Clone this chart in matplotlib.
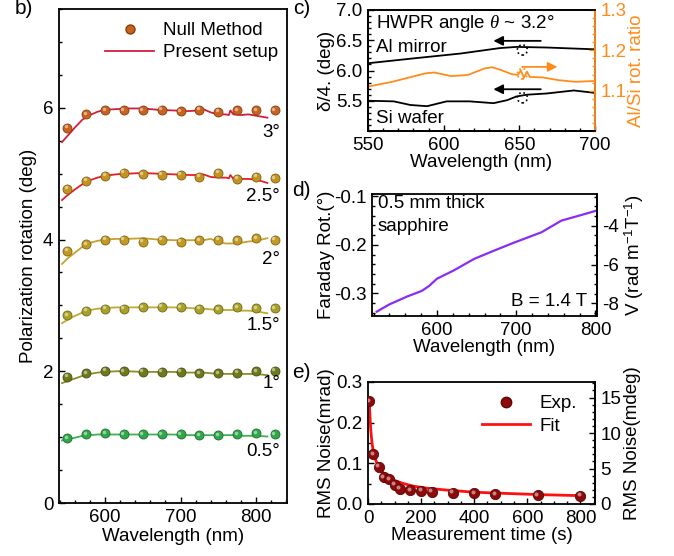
import numpy as np
import matplotlib.pyplot as plt
from matplotlib.ticker import MultipleLocator, FixedLocator
from matplotlib.transforms import offset_copy
from matplotlib.patches import Ellipse
from matplotlib.lines import Line2D
from matplotlib.colors import to_rgb

plt.rcParams['font.family'] = ['Liberation Sans', 'DejaVu Sans']
plt.rcParams['font.size'] = 13.5
plt.rcParams['mathtext.fontset'] = 'custom'
plt.rcParams['mathtext.rm'] = 'Liberation Sans'
plt.rcParams['mathtext.it'] = 'Liberation Serif:italic'
plt.rcParams['axes.unicode_minus'] = False
plt.rcParams['axes.linewidth'] = 1.3

# ---------------- panel b: polarization rotation vs wavelength ----------------
wl_pts = [550, 575, 600, 625, 650, 675, 700, 725, 750, 775, 800, 825]
null_3 = [5.70, 5.90, 5.96, 5.96, 5.96, 5.97, 5.95, 5.97, 5.94, 5.96, 5.96, 5.96]
null_25 = [4.77, 4.89, 4.97, 5.01, 4.99, 4.98, 4.98, 4.95, 5.01, 4.92, 4.95, 4.93]
null_2 = [3.83, 3.93, 4.00, 4.00, 3.97, 4.00, 3.97, 3.99, 4.00, 3.99, 4.02, 4.00]
null_15 = [2.85, 2.92, 2.95, 2.95, 2.97, 2.98, 2.97, 2.95, 2.94, 2.97, 2.96, 2.96]
null_1 = [1.92, 1.97, 2.01, 2.00, 1.99, 1.99, 1.99, 1.97, 1.97, 1.98, 2.00, 2.01]
null_05 = [0.98, 1.04, 1.06, 1.04, 1.04, 1.04, 1.04, 1.03, 1.03, 1.04, 1.06, 1.04]

wl_line = [543, 550, 560, 570, 580, 590, 600, 615, 630, 650, 670, 690, 710, 725,
           730, 740, 750, 760, 764, 766, 770, 780, 790, 800, 815]
setup_3 = [5.48, 5.57, 5.70, 5.82, 5.89, 5.94, 5.97, 5.98, 5.99, 5.99, 5.97, 5.96, 5.95, 5.96,
           5.98, 5.93, 5.90, 5.90, 5.89, 5.96, 5.90, 5.89, 5.90, 5.88, 5.85]
setup_25 = [4.60, 4.67, 4.76, 4.84, 4.90, 4.94, 4.97, 4.99, 5.00, 5.01, 5.00, 4.99, 4.98, 4.98,
            4.99, 4.95, 4.94, 4.94, 4.93, 4.98, 4.92, 4.92, 4.92, 4.91, 4.86]
setup_2 = [3.63, 3.71, 3.80, 3.89, 3.95, 3.98, 4.00, 4.01, 4.01, 4.02, 4.00, 3.99, 3.99, 3.99,
           3.99, 4.01, 3.96, 3.94, 3.94, 3.94, 3.94, 3.95, 3.97, 3.98, 4.02]
setup_15 = [2.73, 2.78, 2.84, 2.89, 2.93, 2.95, 2.96, 2.97, 2.97, 2.97, 2.97, 2.97, 2.96, 2.95,
            2.95, 2.94, 2.93, 2.93, 2.93, 2.93, 2.93, 2.92, 2.92, 2.91, 2.88]
setup_1 = [1.82, 1.85, 1.89, 1.93, 1.96, 1.98, 1.99, 2.00, 2.00, 1.99, 1.99, 1.99, 1.98, 1.98,
           1.98, 1.97, 1.96, 1.96, 1.96, 1.96, 1.96, 1.96, 1.96, 1.96, 1.94]
setup_05 = [0.95, 0.97, 0.99, 1.02, 1.03, 1.04, 1.04, 1.04, 1.04, 1.04, 1.04, 1.04, 1.03, 1.03,
            1.03, 1.03, 1.03, 1.03, 1.03, 1.03, 1.03, 1.02, 1.02, 1.02, 1.01]

angle_labels = ['3°', '2.5°', '2°', '1.5°', '1°', '0.5°']
angle_label_y = [5.62, 4.65, 3.69, 2.70, 1.82, 0.78]

# ---------------- panel c: Al mirror / Si wafer ----------------
wl_al = [550, 580, 611, 637, 648, 668, 700]
rot_al = [6.12, 6.20, 6.28, 6.37, 6.39, 6.38, 6.35]
wl_si = [550, 567, 578, 589, 602, 617, 633, 642, 648, 655, 668, 686, 700]
rot_si = [5.50, 5.49, 5.43, 5.41, 5.49, 5.49, 5.46, 5.51, 5.57, 5.60, 5.62, 5.67, 5.63]
wl_ratio = [550, 566, 588, 594, 605, 616, 627, 632, 638, 645, 649, 651, 653, 655, 657,
            665, 676, 687, 700]
ratio = [1.110, 1.122, 1.143, 1.145, 1.136, 1.139, 1.155, 1.158, 1.151, 1.141, 1.139,
         1.150, 1.132, 1.147, 1.134, 1.133, 1.126, 1.122, 1.124]

# ---------------- panel d: Faraday rotation of sapphire ----------------
wl_far = [524, 540, 562, 581, 590, 600, 621, 647, 672, 698, 732, 757, 783, 800]
far_rot = [-0.338, -0.323, -0.307, -0.295, -0.285, -0.270, -0.253, -0.229, -0.212,
           -0.195, -0.174, -0.150, -0.138, -0.130]

# ---------------- panel e: RMS noise vs time ----------------
t_exp = [5, 20, 40, 60, 80, 100, 120, 160, 200, 240, 320, 400, 480, 640, 800]
noise_exp = [0.253, 0.122, 0.092, 0.066, 0.061, 0.047, 0.037, 0.034, 0.032, 0.030,
             0.028, 0.026, 0.024, 0.022, 0.020]
t_fit = [4, 6, 10, 15, 20, 30, 45, 60, 80, 100, 130, 170, 220, 300, 400, 520, 650, 800]
noise_fit = [0.26, 0.235, 0.185, 0.15, 0.13, 0.106, 0.086, 0.075, 0.065, 0.058, 0.051,
             0.044, 0.039, 0.034, 0.029, 0.026, 0.023, 0.0205]

W, H = 674, 556
fig = plt.figure(figsize=(W / 100, H / 100), dpi=100)


def ax_rect(left, top, right, bottom):
    return [left / W, 1 - bottom / H, (right - left) / W, (bottom - top) / H]


def shade(c, f=0.65):
    r, g, b = to_rgb(c)
    return (r * f, g * f, b * f)


def balls(ax, x, y, color, s=42):
    ax.scatter(x, y, s=s, color=color, edgecolors=shade(color), linewidths=0.6, zorder=3)
    hl = offset_copy(ax.transData, fig=fig, x=-1.1, y=1.1, units='points')
    ax.scatter(x, y, s=s * 0.15, color='white', alpha=0.5, linewidths=0,
               transform=hl, zorder=4)


def ticks_in(ax, **kw):
    ax.tick_params(which='both', direction='in', width=1.0, pad=4, **kw)
    ax.tick_params(which='major', length=4.5)
    ax.tick_params(which='minor', length=2.5)


# ---- b
ax_b = fig.add_axes(ax_rect(59, 9, 287, 503))
line_cols = ['#d21f3c', '#e61e28', '#c9a030', '#c2a834', '#8f8d26', '#3fb14f']
pt_cols = ['#c8621c', '#c4921e', '#c29a22', '#a9a126', '#6d7a1c', '#2fa849']
nulls = [null_3, null_25, null_2, null_15, null_1, null_05]
setups = [setup_3, setup_25, setup_2, setup_15, setup_1, setup_05]
for nv, sv, lc, pc, lab, ly in zip(nulls, setups, line_cols, pt_cols, angle_labels, angle_label_y):
    ax_b.plot(wl_line, sv, color=lc, lw=1.3, zorder=2)
    balls(ax_b, wl_pts, nv, pc)
    ax_b.text(832, ly, lab, ha='right', va='center')
ax_b.set_xlim(539, 841)
ax_b.set_ylim(0, 7.5)
ax_b.xaxis.set_major_locator(MultipleLocator(100))
ax_b.xaxis.set_minor_locator(MultipleLocator(20))
ax_b.yaxis.set_major_locator(MultipleLocator(2))
ax_b.yaxis.set_minor_locator(MultipleLocator(0.5))
ticks_in(ax_b)
ax_b.set_xlabel('Wavelength (nm)', labelpad=2)
ax_b.set_ylabel('Polarization rotation (deg)')
ax_b.yaxis.set_label_coords(-0.096, 0.5)
leg_h = [Line2D([], [], ls='none', marker='o', ms=6.5, color='#c8621c',
                markeredgecolor=shade('#c8621c')),
         Line2D([], [], color='#d21f3c', lw=1.3)]
ax_b.legend(leg_h, ['Null Method', 'Present setup'], loc='upper right', frameon=False,
            bbox_to_anchor=(1.02, 1.0), handlelength=2.6, handletextpad=0.5,
            labelspacing=0.25, borderaxespad=0.3)

# ---- c
orange = '#ff8c1a'
ax_c = fig.add_axes(ax_rect(368, 10, 595, 131))
ax_c.plot(wl_al, rot_al, color='k', lw=1.3)
ax_c.plot(wl_si, rot_si, color='k', lw=1.3)
ax_c.set_xlim(550, 700)
ax_c.set_ylim(5.0, 7.0)
ax_c.yaxis.set_major_locator(FixedLocator([5.5, 6.0, 6.5, 7.0]))
ax_c.yaxis.set_minor_locator(MultipleLocator(0.1))
ax_c.xaxis.set_major_locator(MultipleLocator(50))
ax_c.xaxis.set_minor_locator(MultipleLocator(10))
ax_c.yaxis.set_major_formatter('{x:.1f}')
ticks_in(ax_c, right=False)
ax_c.set_xlabel('Wavelength (nm)', labelpad=0)
ax_c.set_ylabel('δ/4. (deg)')
ax_c.yaxis.set_label_coords(-0.145, 0.5)
ax_c2 = ax_c.twinx()
ax_c2.plot(wl_ratio, ratio, color=orange, lw=1.3)
ax_c2.set_ylim(1.0, 1.3)
ax_c2.yaxis.set_major_locator(FixedLocator([1.1, 1.2, 1.3]))
ax_c2.yaxis.set_minor_locator(MultipleLocator(0.02))
ticks_in(ax_c2, colors=orange)
ax_c2.spines['right'].set_color(orange)
ax_c2.set_ylabel('Al/Si rot. ratio', color=orange)
ax_c2.yaxis.set_label_coords(1.145, 0.5)
ax_c.text(555, 6.78, r'HWPR angle $\theta$ ~ 3.2°', va='center')
ax_c.text(555, 6.38, 'Al mirror', va='center')
ax_c.text(555, 5.20, 'Si wafer', va='center')
arr = dict(arrowstyle='-|>', color='k', lw=1.3, mutation_scale=14)
ax_c.annotate('', xy=(631, 6.49), xytext=(666, 6.49), arrowprops=arr)
ax_c.annotate('', xy=(631, 5.69), xytext=(666, 5.69), arrowprops=arr)
ax_c.add_patch(Ellipse((652, 6.34), 6.6, 0.17, fill=False, ls=':', lw=1.2, color='k'))
ax_c.add_patch(Ellipse((652, 5.55), 6.6, 0.17, fill=False, ls=':', lw=1.2, color='k'))
ax_c2.annotate('', xy=(677, 1.159), xytext=(650, 1.159),
               arrowprops=dict(arrowstyle='-|>', color=orange, lw=1.3, mutation_scale=14))
ax_c2.add_patch(Ellipse((652, 1.142), 6.6, 0.026, fill=False, ls=':', lw=1.2, color=orange))

# ---- d
ax_d = fig.add_axes(ax_rect(372, 194, 597, 316))
ax_d.plot(wl_far, far_rot, color='#8a2cf2', lw=1.6)
ax_d.set_xlim(518, 802)
ax_d.set_ylim(-0.347, -0.095)
ax_d.xaxis.set_major_locator(MultipleLocator(100))
ax_d.xaxis.set_minor_locator(MultipleLocator(20))
ax_d.yaxis.set_major_locator(MultipleLocator(0.1))
ax_d.yaxis.set_minor_locator(MultipleLocator(0.02))
ticks_in(ax_d)
ax_d.set_xlabel('Wavelength (nm)', labelpad=0)
ax_d.set_ylabel('Faraday Rot.(°)')
ax_d.yaxis.set_label_coords(-0.164, 0.5)
k_v = np.pi / 180 / (1.4 * 5e-4)
sec_d = ax_d.secondary_yaxis('right', functions=(lambda d: d * k_v, lambda v: v / k_v))
sec_d.yaxis.set_major_locator(FixedLocator([-4, -6, -8]))
sec_d.yaxis.set_minor_locator(MultipleLocator(0.5))
ticks_in(sec_d)
sec_d.set_ylabel(r'V (rad m$^{-1}$T$^{-1}$)')
sec_d.yaxis.set_label_coords(1.116, 0.5, transform=ax_d.transAxes)
ax_d.text(525, -0.115, '0.5 mm thick', va='center')
ax_d.text(525, -0.162, 'sapphire', va='center')
ax_d.text(790, -0.318, 'B = 1.4 T', ha='right', va='center')

# ---- e
ax_e = fig.add_axes(ax_rect(368, 382, 595, 504))
ax_e.plot(t_fit, noise_fit, color='#ff1010', lw=2.0, zorder=2)
balls(ax_e, t_exp, noise_exp, '#8e0a0a', s=55)
ax_e.set_xlim(0, 855)
ax_e.set_ylim(0, 0.3)
ax_e.xaxis.set_major_locator(MultipleLocator(200))
ax_e.xaxis.set_minor_locator(MultipleLocator(50))
ax_e.yaxis.set_major_locator(MultipleLocator(0.1))
ax_e.yaxis.set_minor_locator(MultipleLocator(0.05))
ax_e.yaxis.set_major_formatter('{x:.1f}')
ticks_in(ax_e)
ax_e.set_xlabel('Measurement time (s)', labelpad=0)
ax_e.set_ylabel('RMS Noise(mrad)')
ax_e.yaxis.set_label_coords(-0.145, 0.5)
k_e = 180 / np.pi
sec_e = ax_e.secondary_yaxis('right', functions=(lambda m: m * k_e, lambda d: d / k_e))
sec_e.yaxis.set_major_locator(MultipleLocator(5))
sec_e.yaxis.set_minor_locator(MultipleLocator(1))
ticks_in(sec_e)
sec_e.set_ylabel('RMS Noise(mdeg)')
sec_e.yaxis.set_label_coords(1.128, 0.5, transform=ax_e.transAxes)
leg_e = [Line2D([], [], ls='none', marker='o', ms=7.5, color='#8e0a0a',
                markeredgecolor=shade('#8e0a0a')),
         Line2D([], [], color='#ff1010', lw=2.0)]
ax_e.legend(leg_e, ['Exp.', 'Fit'], loc='upper right', frameon=False,
            bbox_to_anchor=(0.98, 1.0), handlelength=2.6, handletextpad=0.5,
            labelspacing=0.3, borderaxespad=0.3)

# panel letters
for lab, x, y in [('b)', 15, 8), ('c)', 293, 9), ('d)', 292, 190), ('e)', 292, 372)]:
    fig.text(x / W, 1 - y / H, lab, fontsize=15, va='center', ha='left')

fig.savefig('out.png', dpi=100)
